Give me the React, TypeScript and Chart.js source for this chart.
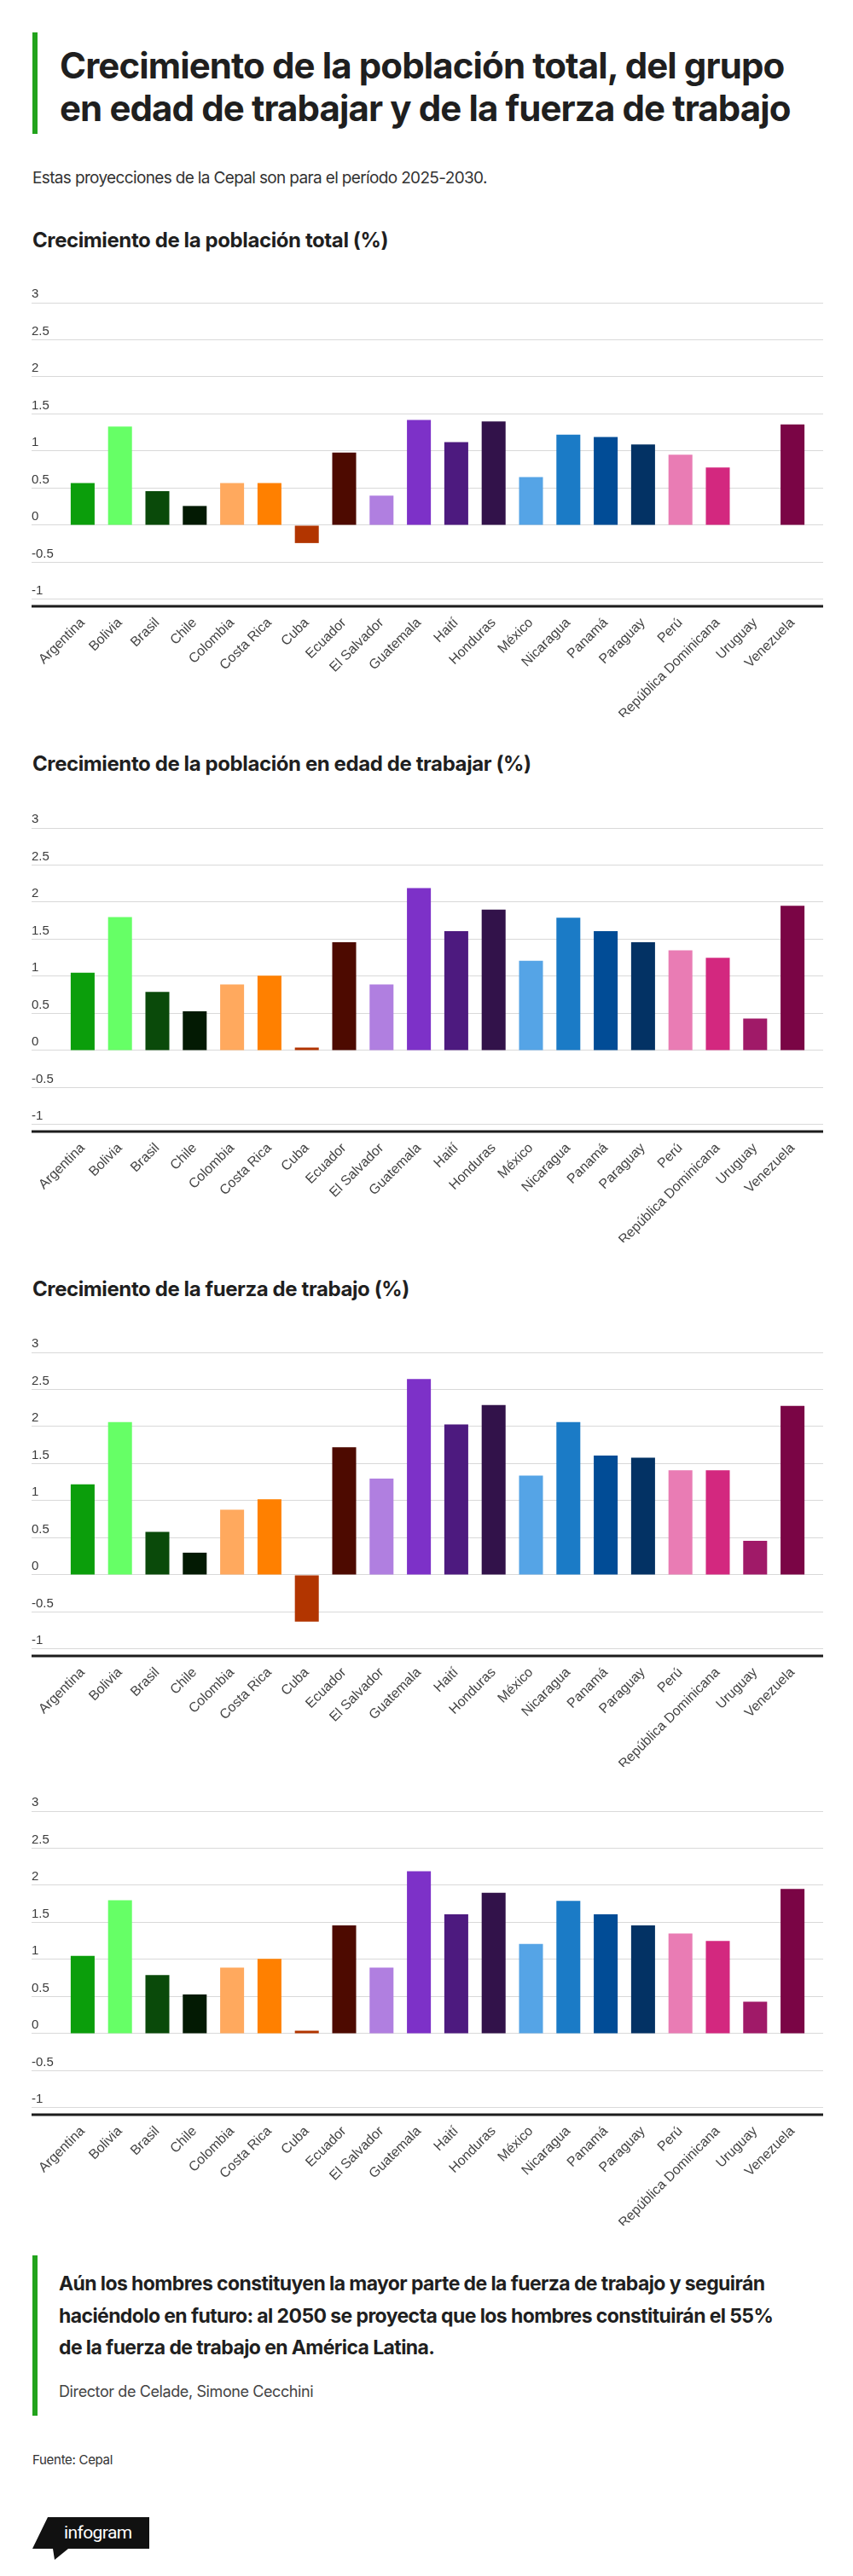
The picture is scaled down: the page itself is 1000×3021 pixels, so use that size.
import { useEffect, useRef } from "react";
import { Chart, registerables } from "chart.js";

Chart.register(...registerables);

const countries = [
  "Argentina", "Bolivia", "Brasil", "Chile", "Colombia", "Costa Rica", "Cuba",
  "Ecuador", "El Salvador", "Guatemala", "Haití", "Honduras", "México",
  "Nicaragua", "Panamá", "Paraguay", "Perú", "República Dominicana",
  "Uruguay", "Venezuela",
];

const barColors = [
  "#0b9e0b", "#66ff66", "#0a4a0a", "#031a03", "#ffa95e", "#ff8000", "#b23500",
  "#4d0a00", "#b07fe0", "#7d31c8", "#4d1a7f", "#32124a", "#55a4e6",
  "#1b7bc6", "#014c96", "#033264", "#e97cb4", "#d3287f", "#a01a68", "#7a0545",
];

// % growth 2025-2030
const totalGrowth = [
  0.57, 1.33, 0.46, 0.26, 0.57, 0.57, -0.24, 0.98, 0.4, 1.42, 1.12, 1.4, 0.65,
  1.22, 1.19, 1.09, 0.95, 0.78, 0, 1.36,
];
const workingAgeGrowth = [
  1.05, 1.8, 0.79, 0.53, 0.89, 1.01, 0.04, 1.46, 0.89, 2.19, 1.61, 1.9, 1.21,
  1.79, 1.61, 1.46, 1.35, 1.25, 0.43, 1.95,
];
const laborForceGrowth = [
  1.22, 2.06, 0.58, 0.3, 0.88, 1.02, -0.63, 1.72, 1.3, 2.64, 2.03, 2.29, 1.34,
  2.06, 1.61, 1.58, 1.41, 1.41, 0.46, 2.28,
];

const yTicks = [-1, -0.5, 0, 0.5, 1, 1.5, 2, 2.5, 3];

const UI_FONT = "Inter, 'Noto Sans', sans-serif";
const AXIS_FONT = "'Liberation Sans', Arial, sans-serif";
const GRID = "#d9d9d9";

const baseLine = {
  id: "baseLine",
  afterDatasetsDraw(chart) {
    const { ctx, chartArea, scales } = chart;
    ctx.save();
    ctx.strokeStyle = "#1c1c1c";
    ctx.lineWidth = 3;
    ctx.beginPath();
    ctx.moveTo(scales.y.left, chartArea.bottom);
    ctx.lineTo(scales.yR.right, chartArea.bottom);
    ctx.stroke();
    ctx.restore();
  },
};

function GrowthChart({ values, top }: { values: number[]; top: number }) {
  const canvasRef = useRef<HTMLCanvasElement | null>(null);
  const chartRef = useRef<Chart | null>(null);

  useEffect(() => {
    const ctx = canvasRef.current!.getContext("2d")!;
    if (chartRef.current) chartRef.current.destroy();

    const setTicks = (s) => {
      s.ticks = yTicks.map((v) => ({ value: v }));
    };

    chartRef.current = new Chart(ctx, {
      type: "bar",
      data: {
        labels: countries,
        datasets: [
          {
            data: values,
            backgroundColor: barColors,
            borderWidth: 0,
            barPercentage: 0.64,
            categoryPercentage: 1,
          },
        ],
      },
      options: {
        animation: false,
        responsive: false,
        devicePixelRatio: 1,
        layout: { padding: { top: 30 } },
        plugins: { legend: { display: false }, tooltip: { enabled: false } },
        scales: {
          x: {
            grid: { display: false },
            border: { display: false },
            ticks: {
              minRotation: 45,
              maxRotation: 45,
              autoSkip: false,
              padding: 2,
              color: "#444",
              font: { family: AXIS_FONT, size: 16 },
            },
            afterFit: (s) => {
              s.height = 130;
            },
          },
          y: {
            position: "left",
            min: yTicks[0] - 0.092,
            max: yTicks[yTicks.length - 1],
            afterBuildTicks: setTicks,
            grid: { color: GRID, lineWidth: 1, tickLength: 38 },
            border: { display: false },
            ticks: {
              crossAlign: "far",
              labelOffset: -10,
              padding: 0,
              color: "#3a3a3a",
              font: { family: AXIS_FONT, size: 15 },
              callback: (v) => String(v),
            },
            afterFit: (s) => {
              s.width = 38;
            },
          },
          yR: {
            position: "right",
            min: yTicks[0] - 0.092,
            max: yTicks[yTicks.length - 1],
            afterBuildTicks: setTicks,
            grid: { color: GRID, lineWidth: 1, tickLength: 14, drawOnChartArea: false },
            border: { display: false },
            ticks: { display: false },
            afterFit: (s) => {
              s.width = 14;
            },
          },
        },
      },
      plugins: [baseLine],
    });

    return () => chartRef.current?.destroy();
  }, [values]);

  return (
    <div style={{ position: "absolute", left: 37, top, width: 928, height: 516 }}>
      <canvas ref={canvasRef} width={928} height={516} style={{ display: "block", width: 928, height: 516 }}></canvas>
    </div>
  );
}

const headingStyle: React.CSSProperties = {
  position: "absolute",
  left: 38,
  margin: 0,
  fontFamily: UI_FONT,
  fontWeight: 700,
  fontSize: 24,
  lineHeight: "30px",
  letterSpacing: "-0.4px",
  color: "#1f1f1f",
  whiteSpace: "nowrap",
};

export default function App() {
  useEffect(() => {
    document.body.style.margin = "0";
    document.body.style.background = "#fff";
  }, []);

  return (
    <div style={{ position: "relative", width: 1000, height: 3021, background: "#fff", fontFamily: UI_FONT }}>
      <div style={{ position: "absolute", left: 38, top: 38, width: 6, height: 119, background: "#22a31c" }} />
      <div
        style={{
          position: "absolute",
          left: 70,
          top: 52,
          fontWeight: 700,
          fontSize: 42,
          lineHeight: "50px",
          letterSpacing: "-0.9px",
          color: "#1f1f1f",
          whiteSpace: "nowrap",
        }}
      >
        <div>Crecimiento de la población total, del grupo</div>
        <div>en edad de trabajar y de la fuerza de trabajo</div>
      </div>
      <div
        style={{
          position: "absolute",
          left: 38,
          top: 197,
          fontSize: 19,
          lineHeight: "24px",
          letterSpacing: "-0.65px",
          color: "#333",
          whiteSpace: "nowrap",
        }}
      >
        Estas proyecciones de la Cepal son para el período 2025-2030.
      </div>

      <h2 style={{ ...headingStyle, top: 267 }}>Crecimiento de la población total (%)</h2>
      <GrowthChart values={totalGrowth} top={325} />

      <h2 style={{ ...headingStyle, top: 881 }}>Crecimiento de la población en edad de trabajar (%)</h2>
      <GrowthChart values={workingAgeGrowth} top={941} />

      <h2 style={{ ...headingStyle, top: 1497 }}>Crecimiento de la fuerza de trabajo (%)</h2>
      <GrowthChart values={laborForceGrowth} top={1556} />

      <GrowthChart values={workingAgeGrowth} top={2094} />

      <div style={{ position: "absolute", left: 38, top: 2645, width: 6, height: 188, background: "#22a31c" }} />
      <div
        style={{
          position: "absolute",
          left: 69,
          top: 2660,
          fontWeight: 700,
          fontSize: 23,
          lineHeight: "37.5px",
          letterSpacing: "-0.6px",
          color: "#1f1f1f",
          whiteSpace: "nowrap",
        }}
      >
        <div>Aún los hombres constituyen la mayor parte de la fuerza de trabajo y seguirán</div>
        <div>haciéndolo en futuro: al 2050 se proyecta que los hombres constituirán el 55%</div>
        <div>de la fuerza de trabajo en América Latina.</div>
      </div>
      <div
        style={{
          position: "absolute",
          left: 69,
          top: 2793,
          fontSize: 18,
          lineHeight: "24px",
          letterSpacing: "-0.4px",
          color: "#444",
          whiteSpace: "nowrap",
        }}
      >
        Director de Celade, Simone Cecchini
      </div>
      <div
        style={{
          position: "absolute",
          left: 38,
          top: 2875,
          fontSize: 15,
          lineHeight: "20px",
          letterSpacing: "-0.3px",
          color: "#333",
          whiteSpace: "nowrap",
        }}
      >
        Fuente: Cepal
      </div>

      <div
        style={{
          position: "absolute",
          left: 38,
          top: 2952,
          width: 137,
          height: 50,
          background: "#111",
          clipPath: "polygon(18px 0, 137px 0, 137px 37px, 42px 37px, 26px 50px, 24px 37px, 0 37px)",
        }}
      >
        <div
          style={{
            position: "absolute",
            left: 37,
            top: 6,
            fontFamily: "Roboto, sans-serif",
            fontSize: 21,
            lineHeight: "24px",
            letterSpacing: "-0.6px",
            color: "#fff",
          }}
        >
          infogram
        </div>
      </div>
    </div>
  );
}
